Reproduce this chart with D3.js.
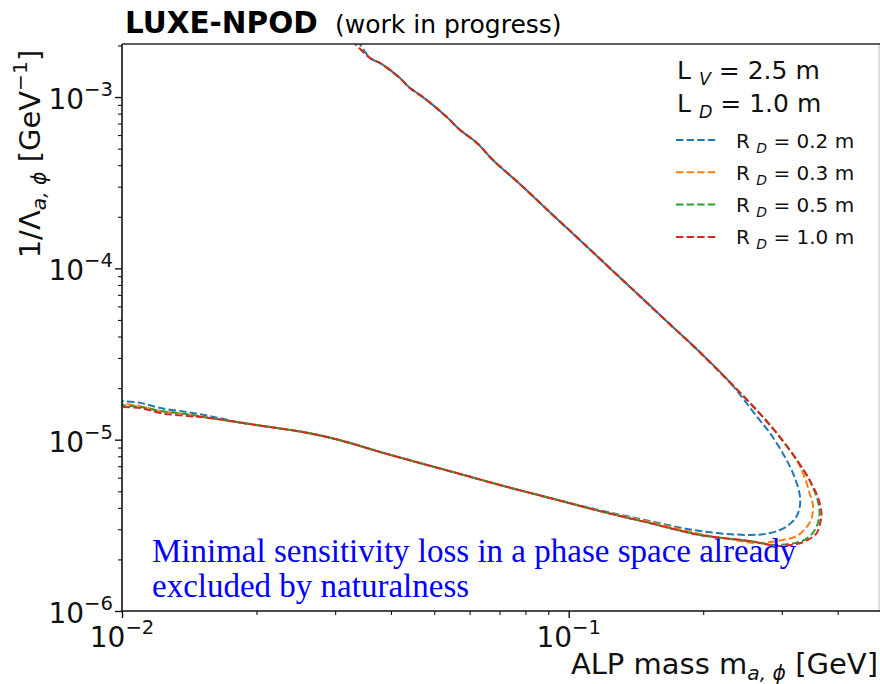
<!DOCTYPE html>
<html><head><meta charset="utf-8">
<script src="https://cdn.jsdelivr.net/npm/d3@7"></script>
<style>body{margin:0;background:#fff} svg{display:block}</style>
</head><body>
<svg id="chart" width="880" height="684"></svg>
<script>
// Sensitivity contours: [ALP mass (GeV), 1/Lambda (GeV^-1)], traced along the
// upper branch, round the high-mass tip, and back along the lower branch.
const rd02 = [
  [0.0337,2.15e-3],[0.0359,1.69e-3],[0.0378,1.58e-3],[0.0398,1.44e-3],[0.0419,1.29e-3],
  [0.0441,1.13e-3],[0.0464,1.03e-3],[0.0496,9.0e-4],[0.0533,7.66e-4],[0.0571,6.43e-4],
  [0.0623,5.40e-4],[0.0676,4.30e-4],[0.0777,3.11e-4],[0.0907,2.13e-4],[0.106,1.46e-4],
  [0.1235,1.005e-4],[0.1442,6.90e-5],[0.1683,4.73e-5],[0.1964,3.25e-5],[0.2292,2.17e-5],
  [0.2634,1.37e-5],[0.2817,1.10e-5],[0.303,8.14e-6],[0.319,6.22e-6],[0.329,4.75e-6],
  [0.329,4.05e-6],[0.322,3.49e-6],[0.306,3.09e-6],[0.282,2.85e-6],[0.254,2.78e-6],
  [0.1964,2.93e-6],[0.1518,3.35e-6],[0.117,3.88e-6],[0.0907,4.57e-6],[0.0701,5.44e-6],
  [0.0571,6.31e-6],[0.0464,7.31e-6],[0.0378,8.48e-6],[0.0312,9.83e-6],[0.0263,1.09e-5],
  [0.0222,1.17e-5],[0.0187,1.25e-5],[0.0157,1.375e-5],[0.0140,1.45e-5],[0.0122,1.53e-5],
  [0.0110,1.64e-5],[0.0100,1.68e-5]
];
const rd03 = [
  [0.0327,2.15e-3],[0.0359,1.69e-3],[0.0378,1.58e-3],[0.0398,1.44e-3],[0.0419,1.29e-3],
  [0.0441,1.13e-3],[0.0464,1.03e-3],[0.0496,9.0e-4],[0.0533,7.66e-4],[0.0571,6.43e-4],
  [0.0623,5.40e-4],[0.0676,4.30e-4],[0.0777,3.11e-4],[0.0907,2.13e-4],[0.106,1.46e-4],
  [0.1235,1.005e-4],[0.1442,6.90e-5],[0.1683,4.73e-5],[0.1964,3.25e-5],[0.2292,2.17e-5],
  [0.2634,1.49e-5],[0.292,1.094e-5],[0.324,7.61e-6],[0.339,5.82e-6],[0.346,4.88e-6],
  [0.352,4.16e-6],[0.350,3.49e-6],[0.341,3.09e-6],[0.324,2.74e-6],[0.301,2.60e-6],
  [0.263,2.49e-6],[0.2292,2.63e-6],[0.1964,2.82e-6],[0.1518,3.31e-6],[0.117,3.84e-6],
  [0.0907,4.57e-6],[0.0701,5.44e-6],[0.0571,6.31e-6],[0.0464,7.31e-6],[0.0378,8.48e-6],
  [0.0312,9.83e-6],[0.0263,1.09e-5],[0.0222,1.17e-5],[0.0187,1.25e-5],[0.0157,1.34e-5],
  [0.0140,1.41e-5],[0.0122,1.47e-5],[0.0110,1.57e-5],[0.0100,1.62e-5]
];
const rd05 = [
  [0.0327,2.15e-3],[0.0359,1.69e-3],[0.0378,1.58e-3],[0.0398,1.44e-3],[0.0419,1.29e-3],
  [0.0441,1.13e-3],[0.0464,1.03e-3],[0.0496,9.0e-4],[0.0533,7.66e-4],[0.0571,6.43e-4],
  [0.0623,5.40e-4],[0.0676,4.30e-4],[0.0777,3.11e-4],[0.0907,2.13e-4],[0.106,1.46e-4],
  [0.1235,1.005e-4],[0.1442,6.90e-5],[0.1683,4.73e-5],[0.1964,3.25e-5],[0.2292,2.17e-5],
  [0.2634,1.49e-5],[0.292,1.094e-5],[0.324,7.61e-6],[0.346,5.82e-6],[0.3515,5.30e-6],
  [0.3606,4.45e-6],[0.3644,3.74e-6],[0.3606,3.22e-6],[0.3515,2.85e-6],[0.3373,2.60e-6],
  [0.3203,2.49e-6],[0.289,2.43e-6],[0.254,2.56e-6],[0.1964,2.78e-6],[0.1518,3.26e-6],
  [0.117,3.84e-6],[0.0907,4.57e-6],[0.0701,5.44e-6],[0.0571,6.31e-6],[0.0464,7.31e-6],
  [0.0378,8.48e-6],[0.0312,9.83e-6],[0.0263,1.09e-5],[0.0222,1.17e-5],[0.0187,1.25e-5],
  [0.0157,1.34e-5],[0.0140,1.41e-5],[0.0122,1.47e-5],[0.0110,1.55e-5],[0.0100,1.59e-5]
];
const rd10 = [
  [0.0327,2.15e-3],[0.0359,1.69e-3],[0.0378,1.58e-3],[0.0398,1.44e-3],[0.0419,1.29e-3],
  [0.0441,1.13e-3],[0.0464,1.03e-3],[0.0496,9.0e-4],[0.0533,7.66e-4],[0.0571,6.43e-4],
  [0.0623,5.40e-4],[0.0676,4.30e-4],[0.0777,3.11e-4],[0.0907,2.13e-4],[0.106,1.46e-4],
  [0.1235,1.005e-4],[0.1442,6.90e-5],[0.1683,4.73e-5],[0.1964,3.25e-5],[0.2292,2.17e-5],
  [0.2634,1.49e-5],[0.292,1.094e-5],[0.324,7.61e-6],[0.346,5.82e-6],[0.361,4.63e-6],
  [0.368,3.74e-6],[0.366,3.31e-6],[0.359,2.85e-6],[0.343,2.60e-6],[0.324,2.46e-6],
  [0.292,2.40e-6],[0.254,2.56e-6],[0.1964,2.78e-6],[0.1518,3.26e-6],[0.117,3.84e-6],
  [0.0907,4.57e-6],[0.0701,5.44e-6],[0.0571,6.31e-6],[0.0464,7.31e-6],[0.0378,8.48e-6],
  [0.0312,9.83e-6],[0.0263,1.09e-5],[0.0222,1.17e-5],[0.0187,1.25e-5],[0.0157,1.34e-5],
  [0.0140,1.375e-5],[0.0122,1.43e-5],[0.0110,1.53e-5],[0.0100,1.55e-5]
];

const seriesData = [rd02, rd03, rd05, rd10];
const seriesRadii = ["0.2", "0.3", "0.5", "1.0"];
const seriesColors = ["#1f77b4", "#ff7f0e", "#2ca02c", "#d62728"];

const xMajorTicks = [0.01, 0.1];
const xMajorExps = ["\u22122", "\u22121"];
const xMinorTicks = [0.02, 0.03, 0.04, 0.05, 0.06, 0.07, 0.08, 0.09, 0.2, 0.3, 0.4];
const yMajorTicks = [1e-6, 1e-5, 1e-4, 1e-3];
const yMajorExps = ["\u22126", "\u22125", "\u22124", "\u22123"];
const yMinorTicks = [2e-6, 3e-6, 4e-6, 5e-6, 6e-6, 7e-6, 8e-6, 9e-6,
                     2e-5, 3e-5, 4e-5, 5e-5, 6e-5, 7e-5, 8e-5, 9e-5,
                     2e-4, 3e-4, 4e-4, 5e-4, 6e-4, 7e-4, 8e-4, 9e-4, 2e-3];

const headerLines = [["V", "2.5"], ["D", "1.0"]];
const noteLines = ["Minimal sensitivity loss in a phase space already", "excluded by naturalness"];

const SANS = "DejaVu Sans, sans-serif";
const plotL = 122, plotR = 879, plotT = 44, plotB = 611;

const svg = d3.select("#chart");
const x = d3.scaleLog().domain([0.01, 0.495]).range([plotL, plotR]);
const y = d3.scaleLog().domain([1e-6, 2.04e-3]).range([plotB, plotT]);

svg.append("defs").append("clipPath").attr("id", "plot-clip")
  .append("rect").attr("x", plotL).attr("y", plotT)
  .attr("width", plotR - plotL).attr("height", plotB - plotT);

// contours
const line = d3.line().x(d => x(d[0])).y(d => y(d[1])).curve(d3.curveCatmullRom.alpha(0.5));
const curves = svg.append("g").attr("clip-path", "url(#plot-clip)");
seriesData.forEach((data, i) => {
  curves.append("path").datum(data)
    .attr("d", line)
    .attr("fill", "none")
    .attr("stroke", seriesColors[i])
    .attr("stroke-width", 2)
    .attr("stroke-dasharray", "7.4,3.2");
});

// axes
const xAxis = d3.axisBottom(x).tickValues(xMajorTicks).tickSize(7).tickFormat("");
const xAxisMinor = d3.axisBottom(x).tickValues(xMinorTicks).tickSize(4).tickFormat("");
const yAxis = d3.axisLeft(y).tickValues(yMajorTicks).tickSize(7).tickFormat("");
const yAxisMinor = d3.axisLeft(y).tickValues(yMinorTicks).tickSize(4).tickFormat("");

function styleAxis(g, w) {
  g.select(".domain").remove();
  g.selectAll(".tick line").attr("stroke", "#111").attr("stroke-width", w);
}
svg.append("g").attr("transform", `translate(0,${plotB})`).call(xAxis).call(styleAxis, 1.4);
svg.append("g").attr("transform", `translate(0,${plotB})`).call(xAxisMinor).call(styleAxis, 1.1);
svg.append("g").attr("transform", `translate(${plotL},0)`).call(yAxis).call(styleAxis, 1.4);
svg.append("g").attr("transform", `translate(${plotL},0)`).call(yAxisMinor).call(styleAxis, 1.1);

// tick labels as 10^n
function powerLabel(sel, exp) {
  sel.append("tspan").text("10");
  sel.append("tspan").attr("font-size", "70%").attr("dy", -13).text(exp);
}
xMajorTicks.forEach((v, i) => {
  svg.append("text").attr("x", x(v)).attr("y", 647)
    .attr("text-anchor", "middle").attr("font-family", SANS).attr("font-size", 28)
    .attr("fill", "#111").call(powerLabel, xMajorExps[i]);
});
yMajorTicks.forEach((v, i) => {
  svg.append("text").attr("x", 113).attr("y", y(v) + 12)
    .attr("text-anchor", "end").attr("font-family", SANS).attr("font-size", 28)
    .attr("fill", "#111").call(powerLabel, yMajorExps[i]);
});

// frame
svg.append("line").attr("x1", plotR).attr("x2", plotR).attr("y1", plotT).attr("y2", plotB)
  .attr("stroke", "#c8c8c8").attr("stroke-width", 1.2);
svg.append("line").attr("x1", plotL).attr("x2", plotR + 1).attr("y1", plotT).attr("y2", plotT)
  .attr("stroke", "#2a2a2a").attr("stroke-width", 1.6);
svg.append("line").attr("x1", plotL).attr("x2", plotR + 1).attr("y1", plotB).attr("y2", plotB)
  .attr("stroke", "#111").attr("stroke-width", 1.6);
svg.append("line").attr("x1", plotL).attr("x2", plotL).attr("y1", plotT).attr("y2", plotB)
  .attr("stroke", "#111").attr("stroke-width", 1.6);

// axis titles
const xt = svg.append("text").attr("x", 878).attr("y", 674).attr("text-anchor", "end")
  .attr("font-family", SANS).attr("font-size", 29).attr("fill", "#111");
xt.append("tspan").text("ALP mass m");
xt.append("tspan").attr("font-size", "70%").attr("dy", 6).attr("font-style", "italic").text("a, \u03d5");
xt.append("tspan").attr("dy", -6).text(" [GeV]");

const yt = svg.append("text").attr("transform", "translate(40,154) rotate(-90)")
  .attr("text-anchor", "middle").attr("font-family", SANS).attr("font-size", 29).attr("fill", "#111");
yt.append("tspan").text("1/\u039b");
yt.append("tspan").attr("font-size", "70%").attr("dy", 6).attr("font-style", "italic").text("a, \u03d5");
yt.append("tspan").attr("dy", -6).text(" [GeV");
yt.append("tspan").attr("font-size", "70%").attr("dy", -13).text("\u22121");
yt.append("tspan").attr("dy", 13).text("]");

// title
svg.append("text").attr("x", 125).attr("y", 33).attr("font-family", SANS)
  .attr("font-size", 29.5).attr("font-weight", "bold").attr("fill", "#000").text("LUXE-NPOD");
svg.append("text").attr("x", 335).attr("y", 33).attr("font-family", SANS)
  .attr("font-size", 25).attr("fill", "#000").text("(work in progress)");

// legend headers
headerLines.forEach((h, i) => {
  const t = svg.append("text").attr("x", 677).attr("y", 79 + i * 33)
    .attr("font-family", SANS).attr("font-size", 25).attr("fill", "#111");
  t.append("tspan").text("L ");
  t.append("tspan").attr("font-size", "70%").attr("dy", 6).attr("font-style", "italic").text(h[0]);
  t.append("tspan").attr("dy", -6).text(` = ${h[1]} m`);
});

// legend entries
seriesRadii.forEach((r, i) => {
  const ly = 140 + i * 32.3;
  svg.append("line").attr("x1", 676).attr("x2", 717).attr("y1", ly).attr("y2", ly)
    .attr("stroke", seriesColors[i]).attr("stroke-width", 2).attr("stroke-dasharray", "7.4,3.2");
  const t = svg.append("text").attr("x", 736).attr("y", ly + 7.5)
    .attr("font-family", SANS).attr("font-size", 20).attr("fill", "#111");
  t.append("tspan").text("R ");
  t.append("tspan").attr("font-size", "70%").attr("dy", 5).attr("font-style", "italic").text("D");
  t.append("tspan").attr("dy", -5).text(` = ${r} m`);
});

// annotation
noteLines.forEach((s, i) => {
  svg.append("text").attr("x", 152).attr("y", 562 + i * 35)
    .attr("font-family", "Liberation Serif, serif").attr("font-size", 33)
    .attr("fill", "#0000ff").text(s);
});
</script>
</body></html>
